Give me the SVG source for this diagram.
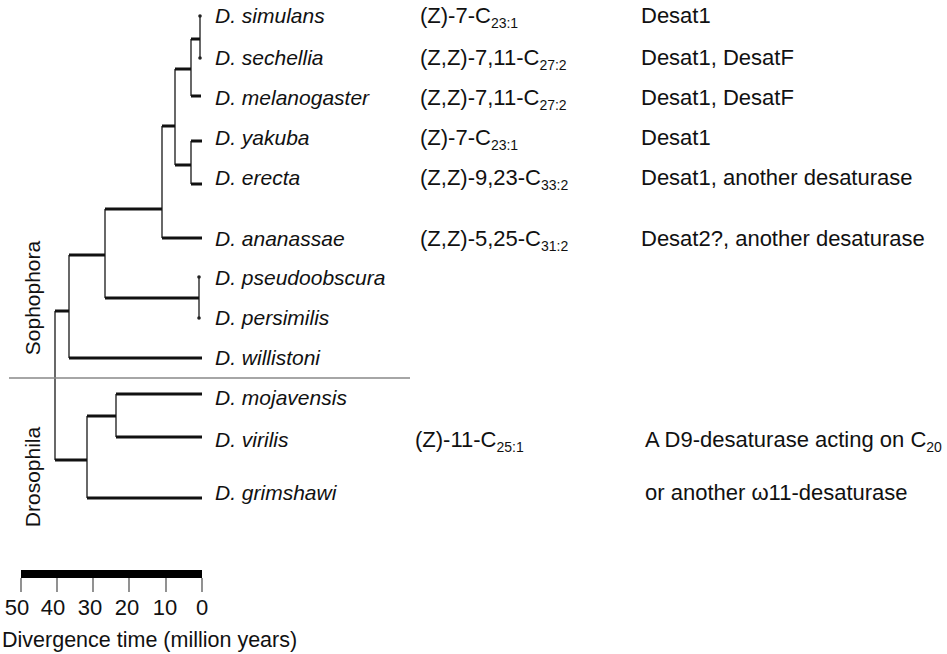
<svg xmlns="http://www.w3.org/2000/svg" width="947" height="654" viewBox="0 0 947 654">
<style>
text{font-family:"Liberation Sans",Arial,sans-serif;font-size:22px;fill:#111}
.sp{font-style:italic;font-size:21px}
.lab{font-size:21px}
.sub{font-size:14px}
.h{stroke:#111;stroke-width:3;fill:none}
.v{stroke:#444;stroke-width:1.6;fill:none}
.tick{stroke:#777;stroke-width:1.6}
.dot{fill:#222}
</style>
<rect width="947" height="654" fill="#fff"/>
<g id="connectors">
<path class="v" d="M200 16V58M191 39V96M175 69V165M191 141V184M162 126V238M105 209V298M199 277V318M69 255V358M55 311V460M116 394V437M87 416V498"/>
<path class="h" d="M191 39H200M191 96H201M175 69H191M191 141H202M191 184H202M175 165H191M162 126H175M162 238H202M105 209H162M105 298H199M69 255H105M69 358H202M55 311H69M116 394H202M116 437H202M87 416H116M55 460H87M87 498H202"/>
<circle class="dot" cx="200" cy="16" r="1.8"/>
<circle class="dot" cx="200" cy="58" r="1.8"/>
<circle class="dot" cx="199" cy="277" r="1.8"/>
<circle class="dot" cx="199" cy="318" r="1.8"/>
</g>
<line x1="9" y1="378" x2="410" y2="378" stroke="#888" stroke-width="1.5"/>
<text class="lab" transform="translate(40 298) rotate(-90)" text-anchor="middle">Sophophora</text>
<text class="lab" transform="translate(40 477) rotate(-90)" text-anchor="middle">Drosophila</text>
<g id="simulans"><text class="sp" x="215" y="23">D. simulans</text><text x="420" y="23">(Z)-7-C<tspan class="sub" dy="5">23:1</tspan></text><text x="641" y="23">Desat1</text></g>
<g id="sechellia"><text class="sp" x="215" y="65">D. sechellia</text><text x="420" y="65">(Z,Z)-7,11-C<tspan class="sub" dy="5">27:2</tspan></text><text x="641" y="65">Desat1, DesatF</text></g>
<g id="melanogaster"><text class="sp" x="215" y="105">D. melanogaster</text><text x="420" y="105">(Z,Z)-7,11-C<tspan class="sub" dy="5">27:2</tspan></text><text x="641" y="105">Desat1, DesatF</text></g>
<g id="yakuba"><text class="sp" x="215" y="145">D. yakuba</text><text x="420" y="145">(Z)-7-C<tspan class="sub" dy="5">23:1</tspan></text><text x="641" y="145">Desat1</text></g>
<g id="erecta"><text class="sp" x="215" y="185">D. erecta</text><text x="420" y="185">(Z,Z)-9,23-C<tspan class="sub" dy="5">33:2</tspan></text><text x="641" y="185">Desat1, another desaturase</text></g>
<g id="ananassae"><text class="sp" x="215" y="246">D. ananassae</text><text x="420" y="246">(Z,Z)-5,25-C<tspan class="sub" dy="5">31:2</tspan></text><text x="641" y="246">Desat2?, another desaturase</text></g>
<g id="pseudoobscura"><text class="sp" x="215" y="285">D. pseudoobscura</text></g>
<g id="persimilis"><text class="sp" x="215" y="325">D. persimilis</text></g>
<g id="willistoni"><text class="sp" x="215" y="365">D. willistoni</text></g>
<g id="mojavensis"><text class="sp" x="215" y="405">D. mojavensis</text></g>
<g id="virilis"><text class="sp" x="215" y="447">D. virilis</text><text x="415" y="447">(Z)-11-C<tspan class="sub" dy="5">25:1</tspan></text><text x="645" y="447">A D9-desaturase acting on C<tspan class="sub" dy="5">20</tspan></text></g>
<g id="grimshawi"><text class="sp" x="215" y="500">D. grimshawi</text><text x="645" y="500">or another ω11-desaturase</text></g>
<g id="scale">
<rect x="21" y="570" width="181" height="8" fill="#000"/>
<path class="tick" d="M21 578V592M57 578V592M93 578V592M129 578V592M166 578V592M202 578V592"/>
<text x="17" y="615" text-anchor="middle">50</text>
<text x="53" y="615" text-anchor="middle">40</text>
<text x="90" y="615" text-anchor="middle">30</text>
<text x="127" y="615" text-anchor="middle">20</text>
<text x="165" y="615" text-anchor="middle">10</text>
<text x="202" y="615" text-anchor="middle">0</text>
<text x="2" y="647" style="font-size:21.5px">Divergence time (million years)</text>
</g>
</svg>
